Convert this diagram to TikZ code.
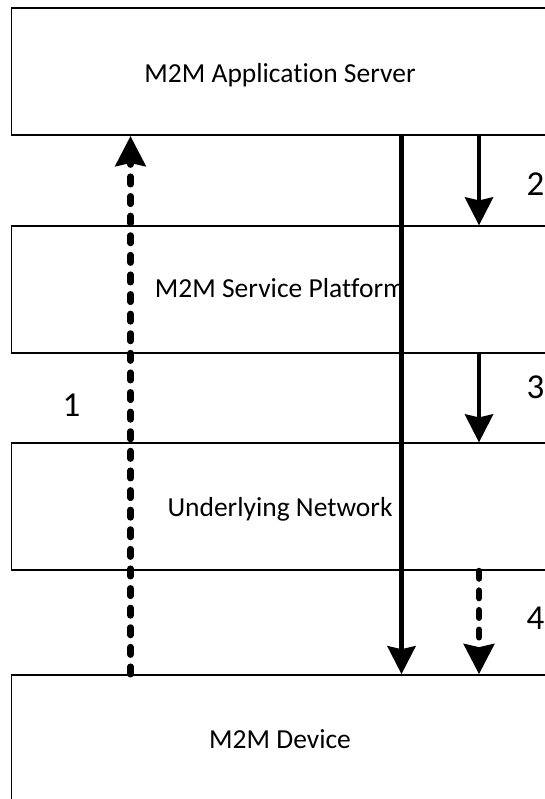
\documentclass[tikz,border=0pt]{standalone}
\usepackage{fontspec}
\setmainfont{Carlito}[Ligatures=NoCommon]
\usetikzlibrary{arrows.meta}
\begin{document}
\begin{tikzpicture}[x=1pt,y=-1pt,
  layer/.style={draw=black, line width=1.6pt, minimum width=537pt, minimum height=127pt, inner sep=0pt},
  layertext/.style={font=\fontsize{27.5}{33}\selectfont, inner sep=0pt, anchor=base},
  solidarrow/.style={line width=4.5pt, -{Stealth[length=28pt,width=28pt,inset=3pt]}},
  dasharrow/.style={line width=6.5pt, line cap=round, dash pattern=on 7.5pt off 12.1pt, -{Stealth[length=30pt,width=30pt,inset=3pt]}},
  num/.style={font=\fontsize{35}{42}\selectfont, inner sep=0pt}]
\useasboundingbox (0,0) rectangle (545,799);
\clip (0,0) rectangle (545,799);
% layers
\node[layer] (as)  at (280,71.7)  {};
\node[layer] (sp)  at (280,289.7) {};
\node[layer] (un)  at (280,506.7) {};
\node[layer] (dev) at (280,738.5) {};
\node[layertext] (ast)  at (280,83)  {M2M Application Server};
\node[layertext] (spt)  at (280,297) {M2M Service Platform};
\node[layertext] (unt)  at (280,516) {Underlying Network};
\node[layertext] (devt) at (280,748) {M2M Device};
% columns
\coordinate (xa) at (130.5,0);
\coordinate (xb) at (401.5,0);
\coordinate (xc) at (479,0);
% connectors
\draw[dasharrow] (dev.north -| xa) -- (as.south -| xa);
\draw[solidarrow] (as.south -| xb) -- (dev.north -| xb);
\draw[solidarrow] (as.south -| xc) -- (sp.north -| xc);
\draw[solidarrow] (sp.south -| xc) -- (un.north -| xc);
\draw[dasharrow] (un.south -| xc) -- (dev.north -| xc);
% labels
\node[num] (n1) at (71.5,405) {1};
\node[num] (n2) at (535.5,184) {2};
\node[num] (n3) at (535.5,387) {3};
\node[num] (n4) at (535.5,618) {4};
\end{tikzpicture}
\end{document}
